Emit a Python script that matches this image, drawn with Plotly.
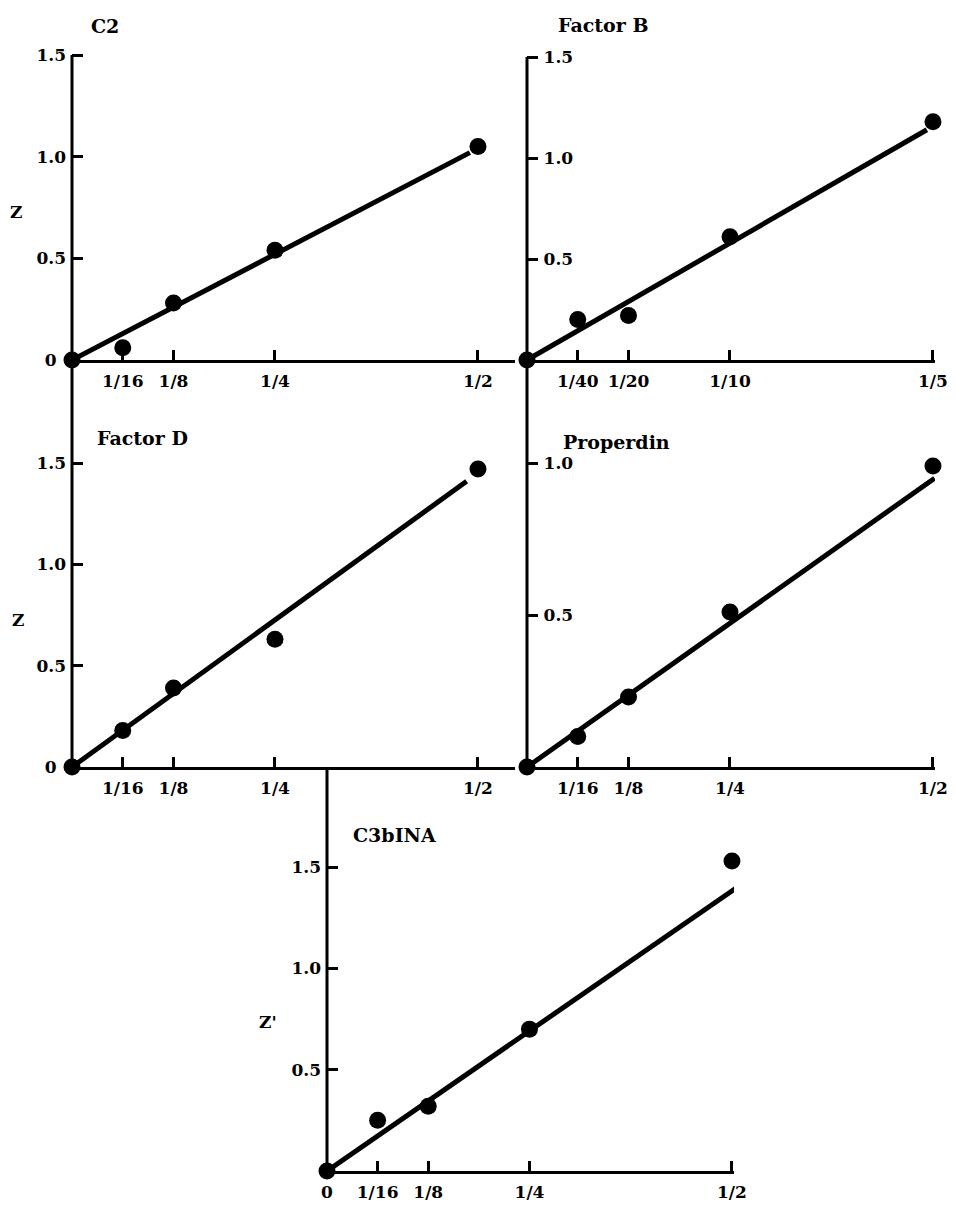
import plotly.graph_objects as go

# ---------------- data ----------------
c2_x = [0, 1/16, 1/8, 1/4, 1/2]
c2_z = [0, 0.06, 0.28, 0.54, 1.05]
c2_fit_x = [0, 0.49]
c2_fit_z = [0, 1.02]

fb_x = [0, 1/40, 1/20, 1/10, 1/5]
fb_z = [0, 0.20, 0.22, 0.61, 1.18]
fb_fit_x = [0, 0.197]
fb_fit_z = [0, 1.14]

fd_x = [0, 1/16, 1/8, 1/4, 1/2]
fd_z = [0, 0.18, 0.39, 0.63, 1.47]
fd_fit_x = [0, 0.486]
fd_fit_z = [0, 1.41]

pr_x = [0, 1/16, 1/8, 1/4, 1/2]
pr_z = [0, 0.10, 0.23, 0.51, 0.99]
pr_fit_x = [0, 0.502]
pr_fit_z = [0, 0.95]

c3_x = [0, 1/16, 1/8, 1/4, 1/2]
c3_z = [0, 0.25, 0.32, 0.70, 1.53]
c3_fit_x = [0, 0.51]
c3_fit_z = [0, 1.41]

ticks_half = [1/16, 1/8, 1/4, 1/2]
ticks_half_text = ["1/16", "1/8", "1/4", "1/2"]
ticks_half0 = [0, 1/16, 1/8, 1/4, 1/2]
ticks_half0_text = ["0", "1/16", "1/8", "1/4", "1/2"]
ticks_b = [1/40, 1/20, 1/10, 1/5]
ticks_b_text = ["1/40", "1/20", "1/10", "1/5"]
yt_15_0 = [0, 0.5, 1.0, 1.5]
yt_15_0_text = ["0\u00a0\u2009", "0.5", "1.0", "1.5"]
yt_15 = [0.5, 1.0, 1.5]
yt_15_text = ["0.5", "1.0", "1.5"]
yt_10 = [0.5, 1.0]
yt_10_text = ["0.5", "1.0"]

# ---------------- layout helpers ----------------
W, H = 956, 1205
def fx(px):
    return px / W
def fy(py):
    return 1 - py / H

FONT = dict(family="DejaVu Serif", size=17, color="black", weight="bold")
TFONT = dict(family="DejaVu Serif", size=19, color="black", weight="bold")

fig = go.Figure()

# k, x, z, fitx, fitz, x0 px, x-end px, x-range end,
# y zero px, top-tick px, top-tick value, y-domain top px, ticks, inside labels
panels = [
    ("1", c2_x, c2_z, c2_fit_x, c2_fit_z, 72, 515, 0.5456, 360, 55, 1.5, 35,
     ticks_half, ticks_half_text, yt_15_0, yt_15_0_text, False),
    ("2", fb_x, fb_z, fb_fit_x, fb_fit_z, 527, 935, 0.201, 360, 57, 1.5, 35,
     ticks_b, ticks_b_text, yt_15, yt_15_text, True),
    ("3", fd_x, fd_z, fd_fit_x, fd_fit_z, 72, 515, 0.5456, 767, 463, 1.5, 445,
     ticks_half, ticks_half_text, yt_15_0, yt_15_0_text, False),
    ("4", pr_x, pr_z, pr_fit_x, pr_fit_z, 527, 935, 0.5025, 767, 463, 1.0, 445,
     ticks_half0, ticks_half0_text, yt_10, yt_10_text, True),
    ("5", c3_x, c3_z, c3_fit_x, c3_fit_z, 327, 734, 0.5025, 1171, 867, 1.5, 845,
     ticks_half0, ticks_half0_text, yt_15, yt_15_text, False),
]

for (k, x, z, fxs, fzs, x0p, x1p, xend, y0p, ytp, ytv_top, ydomtop,
     xtv, xtt, ytv, ytt, inside) in panels:
    xa = "x" if k == "1" else "x" + k
    ya = "y" if k == "1" else "y" + k
    fig.add_trace(go.Scatter(x=fxs, y=fzs, mode="lines", xaxis=xa, yaxis=ya,
                             line=dict(color="black", width=5), cliponaxis=False,
                             showlegend=False, hoverinfo="skip"))
    fig.add_trace(go.Scatter(x=x, y=z, mode="markers", xaxis=xa, yaxis=ya,
                             marker=dict(color="black", size=17), cliponaxis=False,
                             showlegend=False))
    scale = (y0p - ytp) / ytv_top
    ytop = (y0p - ydomtop) / scale
    xkey = "xaxis" if k == "1" else "xaxis" + k
    ykey = "yaxis" if k == "1" else "yaxis" + k
    fig.layout[xkey] = dict(
        domain=[fx(x0p), fx(x1p)], range=[0, xend], anchor=ya, automargin=False,
        showline=True, linecolor="black", linewidth=3, showgrid=False, zeroline=False,
        tickmode="array", tickvals=xtv, ticktext=xtt, ticks="inside", ticklen=10,
        tickwidth=3, tickcolor="black", tickfont=FONT, ticklabelstandoff=4,
        fixedrange=True)
    fig.layout[ykey] = dict(
        domain=[fy(y0p), fy(ydomtop)], range=[0, ytop], anchor=xa, automargin=False,
        showline=False, showgrid=False, zeroline=False,
        tickmode="array", tickvals=ytv, ticktext=ytt, ticks="inside", ticklen=11,
        tickwidth=3, tickcolor="black", tickfont=FONT,
        ticklabelposition="inside" if inside else "outside",
        ticklabelstandoff=6 if inside else 5,
        fixedrange=True)

# vertical axis lines (continuous between stacked panels)
shapes = []
for (px, top, bot) in [(72, 55, 767), (527, 57, 767), (327, 767, 1171)]:
    shapes.append(dict(type="line", xref="paper", yref="paper",
                       x0=fx(px), x1=fx(px), y0=fy(top), y1=fy(bot),
                       line=dict(color="black", width=3)))

annots = []
for (txt, px, py, f) in [("C2", 105, 26, TFONT), ("Factor B", 603, 25, TFONT),
                         ("Factor D", 142, 438, TFONT), ("Properdin", 616, 442, TFONT),
                         ("C3bINA", 394, 835, TFONT),
                         ("Z", 16, 212, FONT), ("Z", 18, 620, FONT), ("Z'", 268, 1022, FONT)]:
    annots.append(dict(text=txt, x=fx(px), y=fy(py), xref="paper", yref="paper",
                       showarrow=False, font=f, xanchor="center", yanchor="middle"))

fig.update_layout(width=W, height=H, autosize=False,
                  margin=dict(l=0, r=0, t=0, b=0, pad=0, autoexpand=False),
                  paper_bgcolor="white", plot_bgcolor="white",
                  shapes=shapes, annotations=annots, showlegend=False)

fig.write_html("out.html", config={"displayModeBar": False},
               post_script="document.body.style.margin='0';document.body.style.overflow='hidden';")
